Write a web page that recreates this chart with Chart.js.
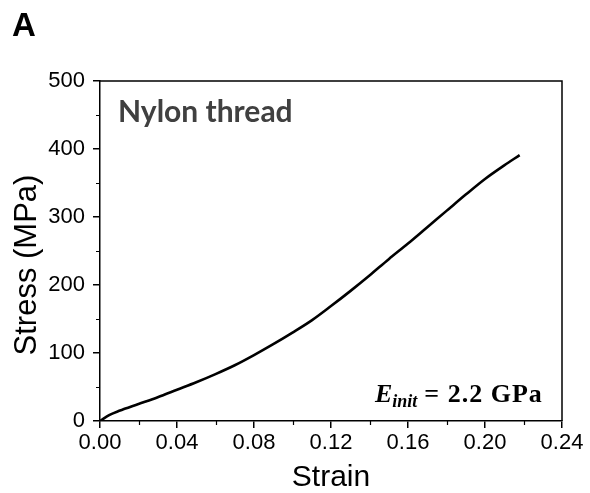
<!DOCTYPE html>
<html>
<head>
<meta charset="utf-8">
<script src="https://cdn.jsdelivr.net/npm/chart.js@4.4.1/dist/chart.umd.min.js"></script>
<style>
    html, body { margin: 0; padding: 0; background: #fff; }
    #wrap { width: 590px; height: 493px; position: relative; }
</style>
</head>
<body>
<div id="wrap"><canvas id="stressChart"></canvas></div>
<script>
// stress-strain curve
const strain = [0, 0.005, 0.01, 0.02, 0.03, 0.04, 0.05, 0.06, 0.07, 0.08, 0.09, 0.10, 0.11, 0.12, 0.13, 0.14, 0.15, 0.16, 0.17, 0.18, 0.19, 0.20, 0.21, 0.218];
const stress = [0, 9, 15, 25, 35, 46, 57, 69, 82, 97, 113, 130, 148, 169, 191, 214, 238, 261, 285, 309, 333, 356, 376, 391];

const xTicks = [0, 0.04, 0.08, 0.12, 0.16, 0.20, 0.24];
const yTicks = [0, 100, 200, 300, 400, 500];

const panelLabel = 'A';
const sampleName = 'Nylon thread';
const yTitle = 'Stress (MPa)';

const points = strain.map((s, i) => ({ x: s, y: stress[i] }));

// white background, frame on top/right, minor ticks and the text labels
const extras = {
    id: 'extras',
    beforeDraw(chart) {
        const ctx = chart.ctx;
        ctx.save();
        ctx.fillStyle = '#fff';
        ctx.fillRect(0, 0, chart.width, chart.height);
        ctx.restore();
    },
    afterDraw(chart) {
        const ctx = chart.ctx;
        const a = chart.chartArea;
        const xs = chart.scales.x;
        const ys = chart.scales.y;
        ctx.save();
        ctx.strokeStyle = '#000';
        ctx.lineWidth = 1.5;
        ctx.beginPath();
        ctx.moveTo(a.left, a.top);
        ctx.lineTo(a.right, a.top);
        ctx.lineTo(a.right, a.bottom);
        ctx.stroke();

        // minor ticks halfway between majors
        ctx.lineWidth = 1.2;
        ctx.beginPath();
        for (let i = 0; i < xTicks.length - 1; i++) {
            const px = Math.round(xs.getPixelForValue((xTicks[i] + xTicks[i + 1]) / 2)) + 0.5;
            ctx.moveTo(px, a.bottom);
            ctx.lineTo(px, a.bottom + 4);
        }
        for (let i = 0; i < yTicks.length - 1; i++) {
            const py = Math.round(ys.getPixelForValue((yTicks[i] + yTicks[i + 1]) / 2)) + 0.5;
            ctx.moveTo(a.left, py);
            ctx.lineTo(a.left - 4, py);
        }
        ctx.stroke();

        ctx.fillStyle = '#000';
        ctx.textBaseline = 'alphabetic';
        ctx.font = 'bold 33px "Liberation Sans", Arial, sans-serif';
        ctx.fillText(panelLabel, 12, 36);

        // y axis title, sits a little below the middle in the original
        ctx.save();
        ctx.translate(36, 265);
        ctx.rotate(-Math.PI / 2);
        ctx.textAlign = 'center';
        ctx.font = '31px "Liberation Sans", Arial, sans-serif';
        ctx.fillText(yTitle, 0, 0);
        ctx.restore();

        ctx.fillStyle = '#404040';
        ctx.font = 'bold 30px Lato, "Open Sans", sans-serif';
        ctx.fillText(sampleName, a.left + 18, a.top + 41);

        // E_init = 2.2 GPa
        ctx.fillStyle = '#000';
        let x = 375, base = 402;
        ctx.font = 'italic bold 26px "Liberation Serif", serif';
        ctx.fillText('E', x, base);
        x += ctx.measureText('E').width;
        ctx.font = 'italic bold 18px "Liberation Serif", serif';
        ctx.fillText('init', x, base + 5);
        x += ctx.measureText('init').width + 7;
        ctx.font = 'bold 26px "Liberation Serif", serif';
        ctx.letterSpacing = '1px';
        ctx.fillText('= 2.2 GPa', x, base);
        ctx.restore();
    }
};

const ctx = document.getElementById('stressChart').getContext('2d');
new Chart(ctx, {
    type: 'line',
    data: {
        datasets: [{
            data: points,
            borderColor: '#000',
            borderWidth: 2.6,
            pointRadius: 0,
            fill: false,
            cubicInterpolationMode: 'monotone'
        }]
    },
    options: {
        responsive: true,
        maintainAspectRatio: false,
        animation: false,
        layout: { padding: { top: 81, right: 28, left: 0, bottom: 0 } },
        plugins: { legend: { display: false }, tooltip: { enabled: false } },
        scales: {
            x: {
                type: 'linear',
                min: 0,
                max: 0.24,
                afterBuildTicks: scale => { scale.ticks = xTicks.map(v => ({ value: v })); },
                afterFit: scale => { scale.height = 72; },
                grid: { drawOnChartArea: false, color: '#000', lineWidth: 1.5, tickLength: 7 },
                border: { color: '#000', width: 1.5 },
                ticks: {
                    color: '#000',
                    padding: 2,
                    maxRotation: 0,
                    font: { family: '"Liberation Sans", Arial, sans-serif', size: 22 },
                    callback: v => v.toFixed(2)
                },
                title: {
                    display: true,
                    text: 'Strain',
                    color: '#000',
                    padding: { top: 0, bottom: 0 },
                    font: { family: '"Liberation Sans", Arial, sans-serif', size: 30, lineHeight: 1.05 }
                }
            },
            y: {
                min: 0,
                max: 500,
                afterBuildTicks: scale => { scale.ticks = yTicks.map(v => ({ value: v })); },
                afterFit: scale => { scale.width = 100; },
                grid: { drawOnChartArea: false, color: '#000', lineWidth: 1.5, tickLength: 7 },
                border: { color: '#000', width: 1.5 },
                ticks: {
                    color: '#000',
                    padding: 8,
                    font: { family: '"Liberation Sans", Arial, sans-serif', size: 22 }
                }
            }
        }
    },
    plugins: [extras]
});
</script>
</body>
</html>
